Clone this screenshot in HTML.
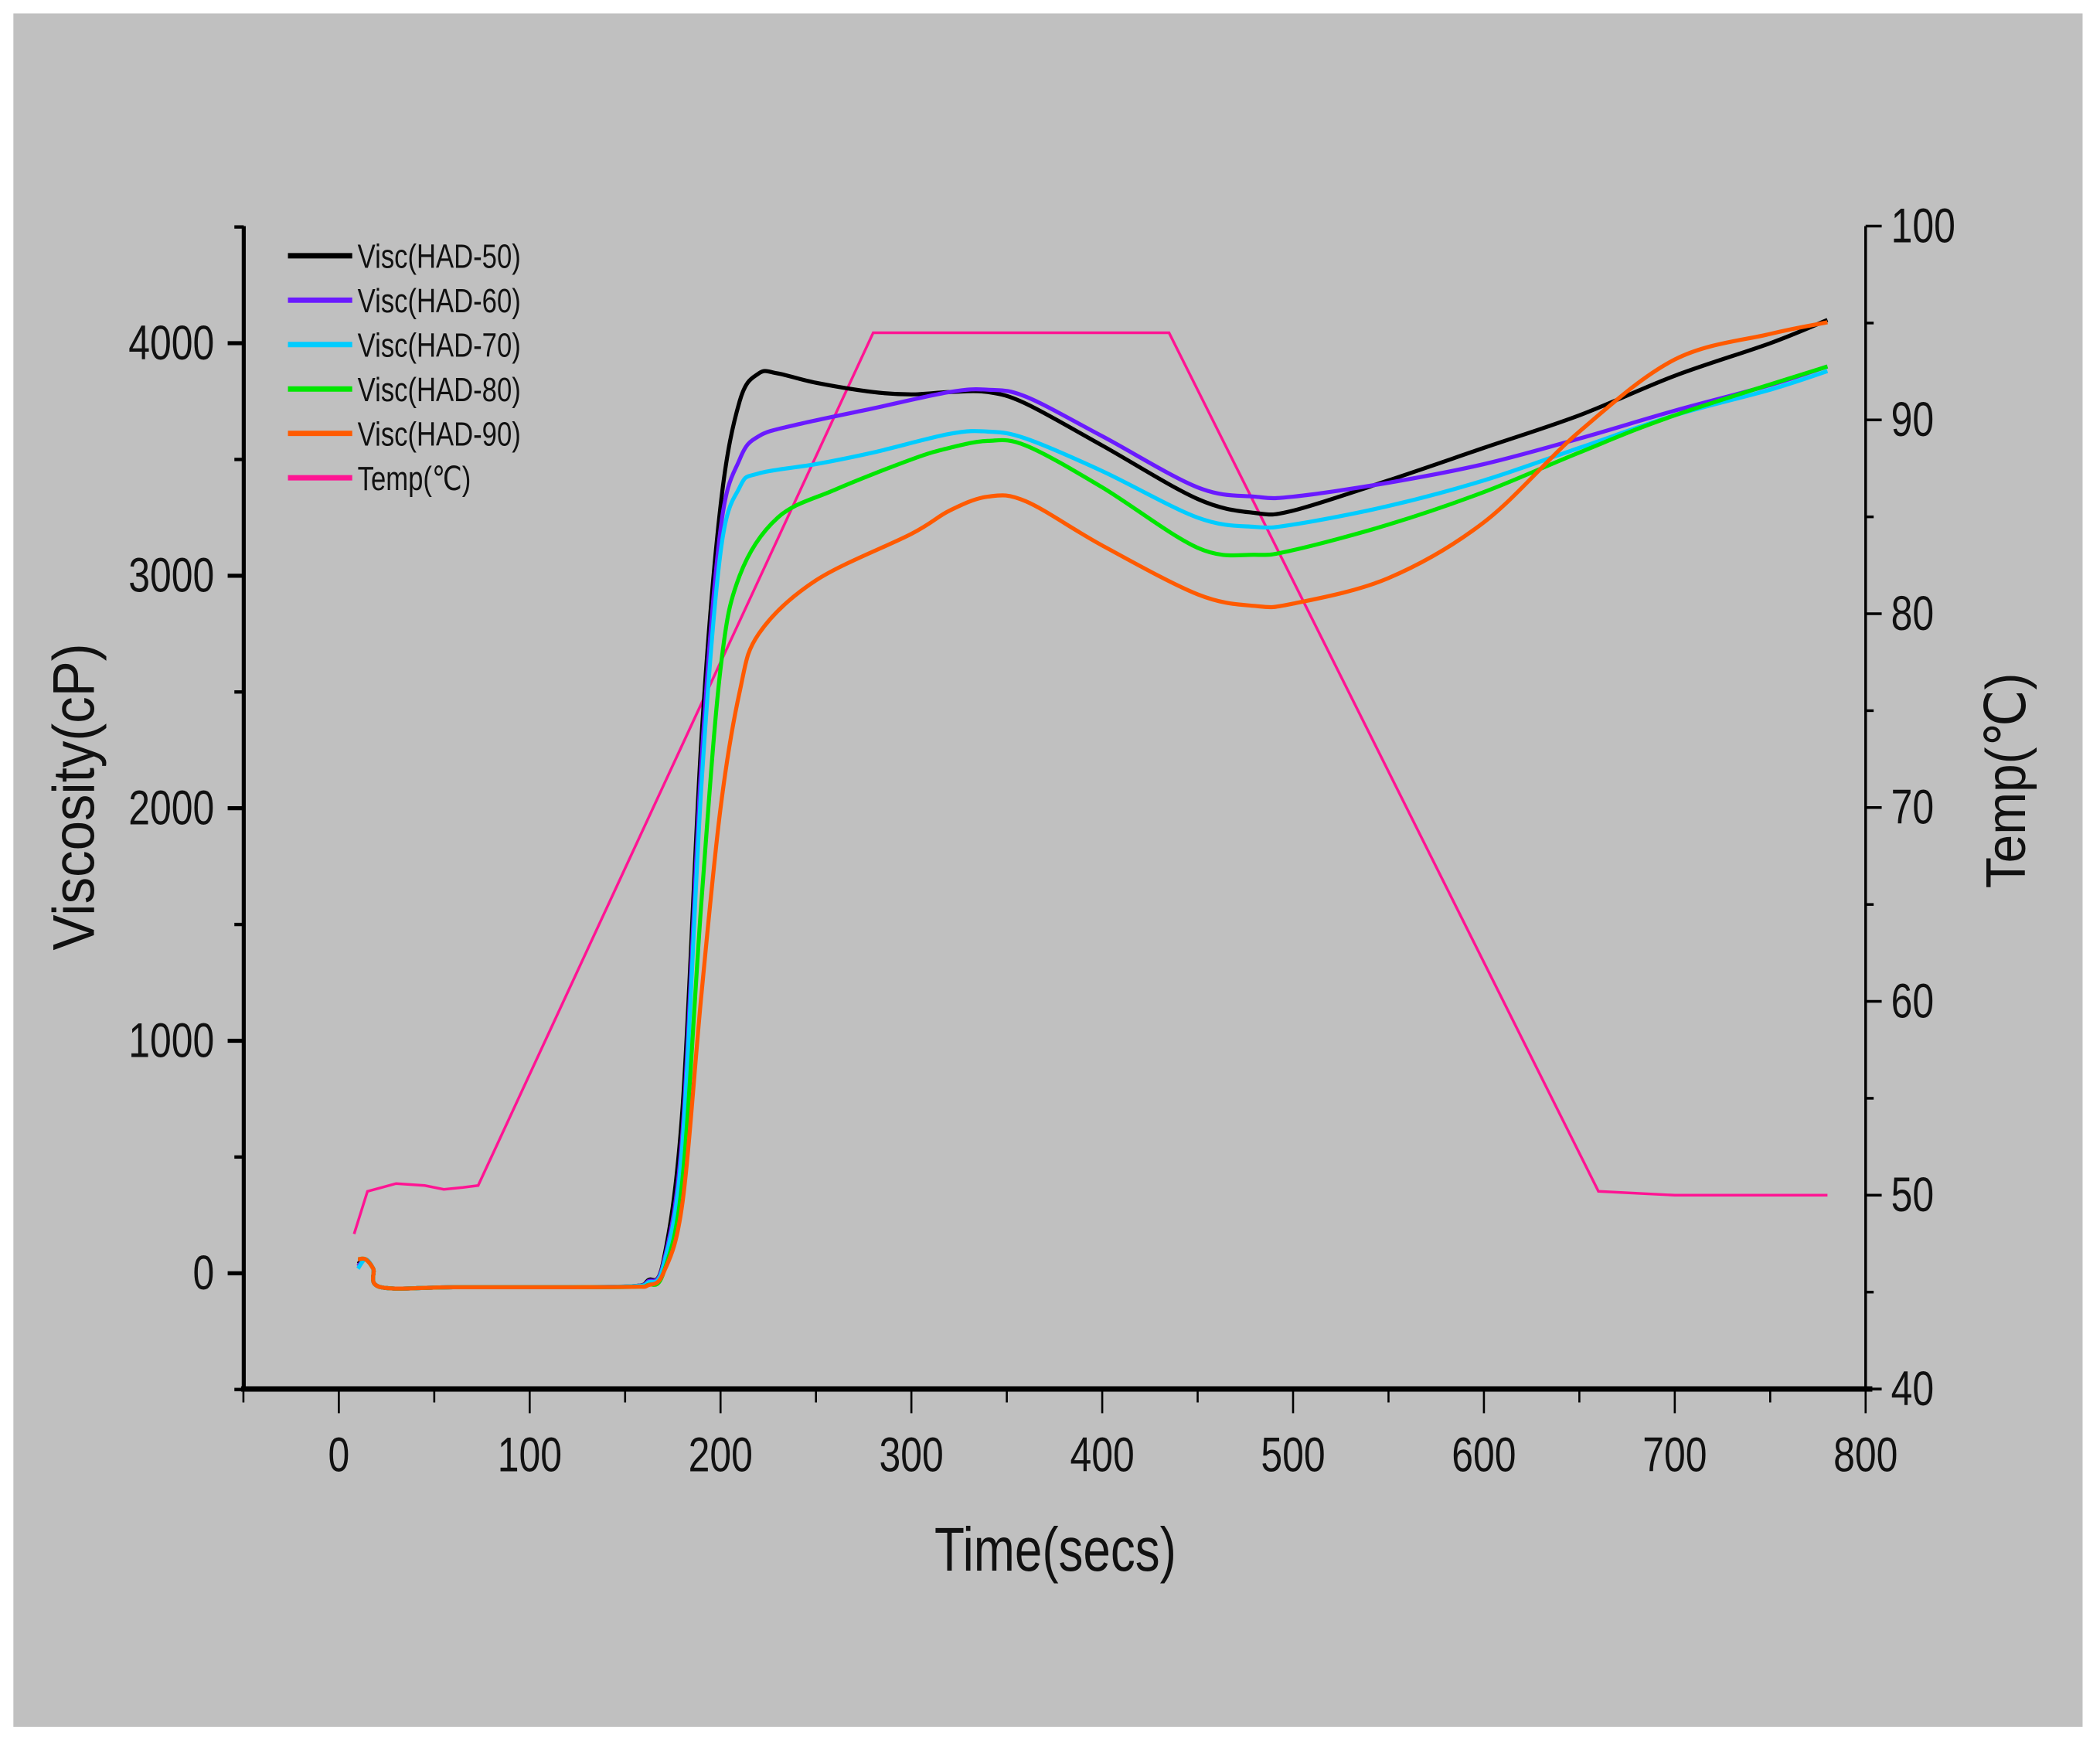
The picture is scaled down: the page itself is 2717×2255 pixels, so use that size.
<!DOCTYPE html>
<html><head><meta charset="utf-8"><style>
html,body{margin:0;padding:0;background:#fff;}
svg{display:block;}
text{font-family:"Liberation Sans",Arial,sans-serif;fill:#111;}
</style></head><body>
<svg id="chart" width="2717" height="2255" viewBox="0 0 1568 1295" preserveAspectRatio="none" xmlns="http://www.w3.org/2000/svg">
<rect x="10" y="10" width="1545" height="1273" fill="#c0c0c0"/>
<g id="axes"></g>
<g id="series"></g>
<g id="legend"></g>
<text transform="translate(70,592) rotate(-90) scale(0.9,1)" text-anchor="middle" font-size="44">Viscosity(cP)</text>
<text transform="translate(1512,580) rotate(-90) scale(0.9,1)" text-anchor="middle" font-size="42">Temp(℃)</text>
<text transform="translate(788,1167) scale(0.8,1)" text-anchor="middle" font-size="46">Time(secs)</text>
</svg>
<script>
const xTicks=[0,100,200,300,400,500,600,700,800];
const yTicks=[0,1000,2000,3000,4000];
const y2Ticks=[40,50,60,70,80,90,100];
const seriesNames=["Visc(HAD-50)","Visc(HAD-60)","Visc(HAD-70)","Visc(HAD-80)","Visc(HAD-90)"];
const seriesColors=["#000000","#6a1aff","#00ccff","#00e600","#ff5a00"];
const t50=[10,14,18,22,60,120,155,162,170,180,190,200,210,220,230,250,280,300,320,340,360,400,450,480,500,550,600,650,700,750,780];
const v50=[40,60,20,-60,-60,-60,-55,-30,50,700,2300,3300,3750,3870,3870,3830,3790,3780,3790,3790,3740,3560,3330,3270,3280,3410,3550,3690,3860,4000,4100];
const t60=[10,14,18,22,60,120,155,162,170,180,190,200,210,220,240,280,320,340,360,400,450,480,500,550,600,650,700,750,780];
const v60=[30,60,20,-60,-60,-60,-55,-35,40,600,2200,3200,3500,3600,3650,3720,3790,3800,3770,3600,3380,3340,3340,3400,3480,3590,3710,3820,3900];
const t70=[10,14,18,22,60,120,155,162,170,180,190,200,210,220,250,280,320,340,360,400,450,480,500,550,600,650,700,750,780];
const v70=[20,60,20,-60,-60,-60,-55,-40,30,550,2100,3100,3380,3440,3480,3530,3610,3620,3590,3450,3250,3210,3220,3300,3410,3550,3690,3800,3880];
const t80=[10,14,18,22,60,120,155,162,170,180,190,200,210,230,260,300,320,340,360,400,450,480,500,550,600,650,700,780];
const v80=[60,60,20,-60,-60,-60,-58,-50,0,400,1600,2600,3000,3250,3370,3500,3550,3580,3560,3380,3120,3090,3110,3220,3360,3530,3690,3900];
const t90=[10,14,18,22,60,120,155,162,170,180,190,200,210,220,250,300,320,340,360,400,450,480,500,550,600,650,700,750,780];
const v90=[60,60,20,-60,-60,-60,-58,-52,0,300,1200,2000,2500,2750,2980,3180,3280,3340,3320,3130,2920,2870,2880,2990,3230,3620,3930,4040,4090];
const tTemp=[8,15,30,45,55,65,73,280,435,660,700,780];
const vTemp=[48,50.2,50.6,50.5,50.3,50.4,50.5,94.5,94.5,50.2,50,50];
const seriesT=[t50,t60,t70,t80,t90];
const seriesV=[v50,v60,v70,v80,v90];

const X=t=>253+t*1.425;
const YV=v=>946-v*0.17275;
const YT=T=>1032-(T-40)*14.4;
const NS="http://www.w3.org/2000/svg";
function mk(tag,attrs,parent){const e=document.createElementNS(NS,tag);for(const k in attrs)e.setAttribute(k,attrs[k]);parent.appendChild(e);return e;}
const axes=document.getElementById('axes');
let a=mk('line',{x1:182,y1:168,x2:182,y2:1032,stroke:'#000','stroke-width':3},axes);


a=mk('line',{x1:1393,y1:168,x2:1393,y2:1032,stroke:'#000','stroke-width':2},axes);


a=mk('line',{x1:180,y1:1032,x2:1398,y2:1032,stroke:'#000','stroke-width':4},axes);


for(let t=-50;t<=800;t+=50){const major=t%100===0;
 const l=mk('line',{x1:X(t),y1:1032,x2:X(t),y2:major?1050:1042,stroke:'#000','stroke-width':1.5},axes);
 
 }
xTicks.forEach(t=>{const e=mk('text',{transform:`translate(${X(t)},1093) scale(0.8,1)`,'text-anchor':'middle','font-size':36},axes);e.textContent=t;
 
 });
for(let v=-500;v<=4500;v+=500){const major=v%1000===0;
 const l=mk('line',{x1:major?170:175,y1:YV(v),x2:182,y2:YV(v),stroke:'#000','stroke-width':major?3:2.5},axes);
 
 }
yTicks.forEach(v=>{const e=mk('text',{transform:`translate(160,${YV(v)+12}) scale(0.8,1)`,'text-anchor':'end','font-size':36},axes);e.textContent=v;
 
 });
for(let T=40;T<=100;T+=5){const major=T%10===0;
 const l=mk('line',{x1:1393,y1:YT(T),x2:major?1405:1399,y2:YT(T),stroke:'#000','stroke-width':2},axes);
 
 }
y2Ticks.forEach(T=>{const e=mk('text',{transform:`translate(1412,${YT(T)+12}) scale(0.8,1)`,'text-anchor':'start','font-size':36},axes);e.textContent=T;
 
 });

function smoothPath(pts){let d=`M${pts[0][0]},${pts[0][1]}`;
 for(let i=0;i<pts.length-1;i++){const p0=pts[Math.max(0,i-1)],p1=pts[i],p2=pts[i+1],p3=pts[Math.min(pts.length-1,i+2)];
  const c1=[p1[0]+(p2[0]-p0[0])/6,p1[1]+(p2[1]-p0[1])/6],c2=[p2[0]-(p3[0]-p1[0])/6,p2[1]-(p3[1]-p1[1])/6];
  d+=` C${c1[0]},${c1[1]} ${c2[0]},${c2[1]} ${p2[0]},${p2[1]}`;}
 return d;}
const sg=document.getElementById('series');
const tp=mk('path',{d:'M'+tTemp.map((t,i)=>X(t)+','+YT(vTemp[i])).join(' L'),fill:'none',stroke:'#ff1493','stroke-width':2},sg);


for(let s=0;s<5;s++){
 const pts=seriesT[s].map((t,i)=>[X(t),YV(seriesV[s][i])]);
 const p=mk('path',{d:smoothPath(pts),fill:'none',stroke:seriesColors[s],'stroke-width':3},sg);
 
 
}
const lg=document.getElementById('legend');
const names=seriesNames.concat(["Temp(℃)"]);const cols=seriesColors.concat(["#ff1493"]);
names.forEach((n,i)=>{const y=190+i*33;
 const l=mk('line',{x1:215,y1:y,x2:263,y2:y,stroke:cols[i],'stroke-width':4},lg);
 
 
 const t=mk('text',{transform:`translate(267,${y+9}) scale(0.8,1)`,'font-size':25,fill:'#333'},lg);t.textContent=n;
 
 });
</script>
</body></html>
